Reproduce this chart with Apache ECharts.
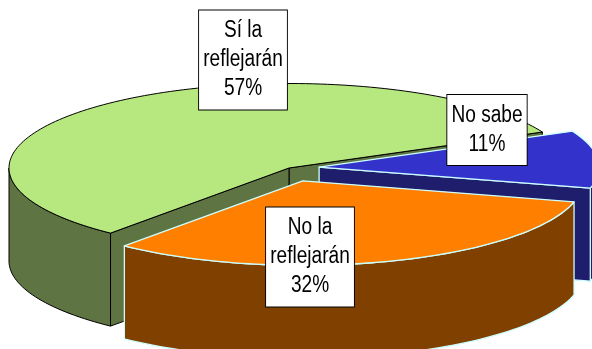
<!DOCTYPE html>
<html>
<head>
<meta charset="utf-8">
<script src="https://cdn.jsdelivr.net/npm/echarts@6/dist/echarts.min.js"></script>
<style>
  html, body { margin: 0; padding: 0; background: #ffffff; }
  #chart { width: 592px; height: 349px; }
</style>
</head>
<body>
<div id="chart"></div>
<script>
// Survey answers, in percent
const categories = ['Sí la reflejarán', 'No la reflejarán', 'No sabe'];
const values = [57, 32, 11];

// Tilted 3D pie layout (pixels) and styling
const PIE = { cx: 289, cy: 168, rx: 280, ry: 84.5, depth: 93, start: 25.2 };
const EXPLODE = [0, 0.16, 0.108];
const TOP_COLORS = ['#B7E87F', '#FF8000', '#3333CC'];
const SIDE_COLORS = ['#5E7442', '#7F4000', '#1E1E6C'];
const EDGE_COLORS = ['#000000', '#CCFFFF', '#CCFFFF'];
const EDGE_WIDTHS = [1, 1.3, 1.3];
const LABEL_POS = [[243, 60], [310, 257], [487, 130]];
const LABEL_FONT = '23px "Liberation Sans", Arial, sans-serif';
const LABEL_SQUEEZE = 0.83; // condensed look of the label lettering

const total = values.reduce((a, b) => a + b, 0);
const slices = [];
let acc = 0;
values.forEach((v, i) => {
  const a0 = PIE.start + acc / total * 360;
  acc += v;
  const a1 = PIE.start + acc / total * 360;
  const mid = (a0 + a1) / 2 * Math.PI / 180;
  slices.push({
    a0, a1, mid,
    ox: EXPLODE[i] * PIE.rx * Math.cos(mid),
    oy: -EXPLODE[i] * PIE.ry * Math.sin(mid)
  });
});
// back slices are painted first
const order = slices.map((s, i) => i).sort((a, b) => Math.sin(slices[b].mid) - Math.sin(slices[a].mid));
const rank = [];
order.forEach((idx, r) => { rank[idx] = r; });

function pt(s, deg, r, h) {
  const t = deg * Math.PI / 180;
  return [PIE.cx + s.ox + PIE.rx * r * Math.cos(t), PIE.cy + s.oy - PIE.ry * r * Math.sin(t) + h];
}
function arc(s, from, to, h) {
  const n = Math.max(2, Math.ceil(Math.abs(to - from) / 1.5));
  const out = [];
  for (let k = 0; k <= n; k++) out.push(pt(s, from + (to - from) * k / n, 1, h));
  return out;
}
function labelText(name, v) {
  const words = name.split(' ');
  const head = words.length > 2 ? words.slice(0, 2).join(' ') + '\n' + words.slice(2).join(' ') : name;
  return head + '\n' + v + '%';
}

function renderItem(params, api) {
  const i = params.dataIndex;
  const s = slices[i];
  const v = api.value(0);
  const D = PIE.depth;
  const base = rank[i] * 10;
  const faceStyle = { fill: SIDE_COLORS[i], stroke: EDGE_COLORS[i], lineWidth: EDGE_WIDTHS[i], lineJoin: 'round' };
  const children = [];

  // outer rim: only the front half of the ellipse is visible
  [[180, 360], [540, 720]].forEach(([lo, hi]) => {
    const from = Math.max(s.a0, lo), to = Math.min(s.a1, hi);
    if (to > from) {
      const pts = arc(s, from, to, 0).concat(arc(s, to, from, D));
      children.push({ type: 'polygon', shape: { points: pts }, style: faceStyle, z2: base + 1 });
    }
  });

  // radial cut faces facing the viewer
  const apexT = pt(s, 0, 0, 0), apexB = pt(s, 0, 0, D);
  if (Math.cos(s.a0 * Math.PI / 180) > 0) {
    children.push({ type: 'polygon', shape: { points: [apexT, pt(s, s.a0, 1, 0), pt(s, s.a0, 1, D), apexB] }, style: faceStyle, z2: base + 2 });
  }
  if (Math.cos(s.a1 * Math.PI / 180) < 0) {
    children.push({ type: 'polygon', shape: { points: [apexT, pt(s, s.a1, 1, 0), pt(s, s.a1, 1, D), apexB] }, style: faceStyle, z2: base + 2 });
  }

  // top face
  children.push({
    type: 'polygon',
    shape: { points: [apexT].concat(arc(s, s.a0, s.a1, 0)) },
    style: { fill: TOP_COLORS[i], stroke: EDGE_COLORS[i], lineWidth: EDGE_WIDTHS[i], lineJoin: 'round' },
    z2: base + 5
  });

  // boxed data label
  children.push({
    type: 'text',
    x: LABEL_POS[i][0], y: LABEL_POS[i][1],
    scaleX: LABEL_SQUEEZE,
    z2: 100,
    style: {
      text: labelText(categories[i], v),
      font: LABEL_FONT,
      fill: '#000000',
      align: 'center',
      verticalAlign: 'middle',
      lineHeight: 29,
      backgroundColor: '#ffffff',
      borderColor: '#000000',
      borderWidth: 1.1,
      padding: [6, 5, 6, 5]
    }
  });

  return { type: 'group', children };
}

const chart = echarts.init(document.getElementById('chart'), null, { renderer: 'canvas' });
chart.setOption({
  animation: false,
  backgroundColor: '#ffffff',
  series: [{
    type: 'custom',
    coordinateSystem: 'none',
    silent: true,
    renderItem,
    data: values.map((v, i) => ({ name: categories[i], value: [v] }))
  }]
});
</script>
</body>
</html>
